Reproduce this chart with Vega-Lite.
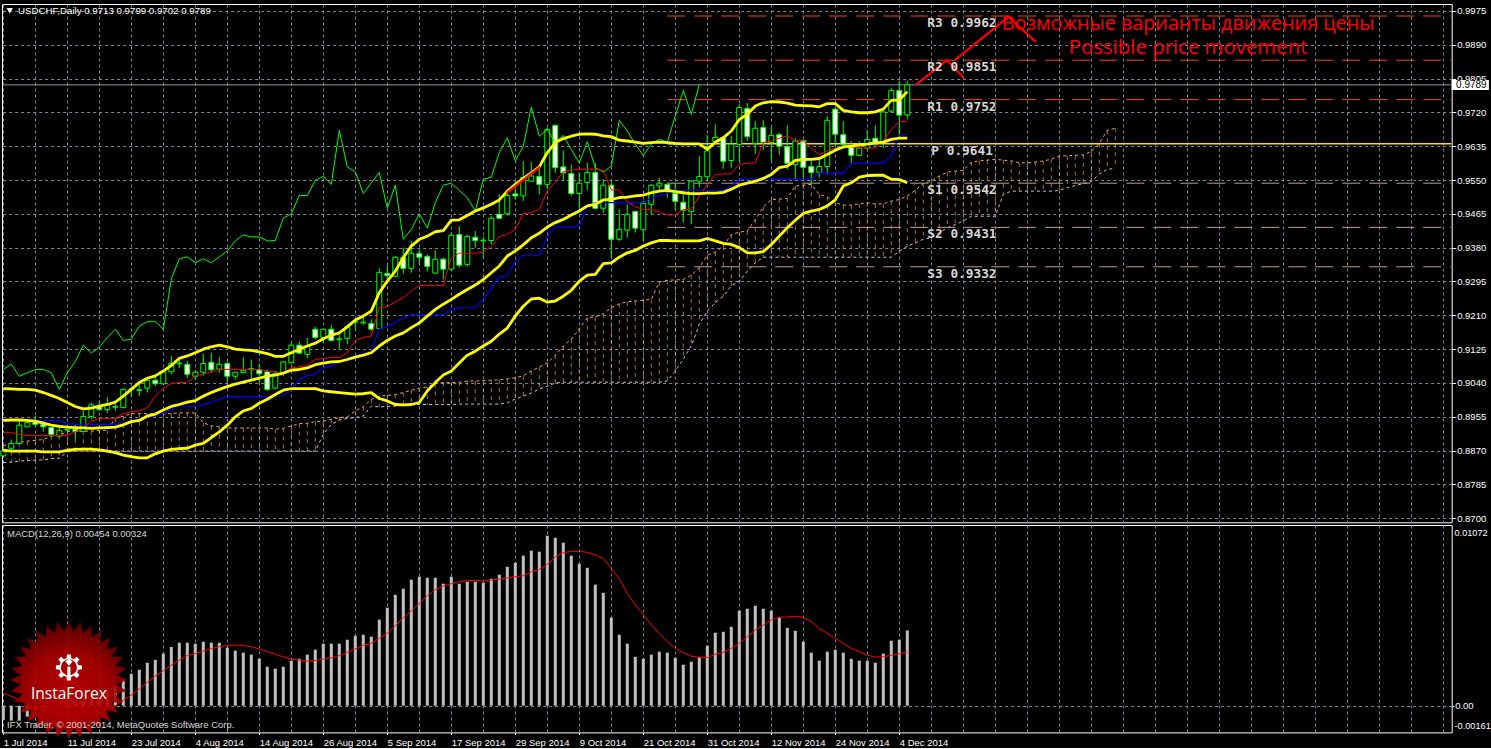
{"$schema":"https://vega.github.io/schema/vega-lite/v6.json","background":"#000000","padding":{"left":-1,"top":3,"right":0,"bottom":0},"bounds":"flush","spacing":2,"config":{"view":{"stroke":"#ffffff","strokeWidth":1},"axis":{"title":null,"domain":false,"labelOverlap":false,"labelFlush":false,"labelBound":false},"line":{"strokeJoin":"round"}},
"datasets":{
"candles":[
{"bar":0,"open":0.8857,"high":0.8879,"low":0.8852,"close":0.8869},{"bar":1,"open":0.8876,"high":0.8898,"low":0.8869,"close":0.8888},{"bar":2,"open":0.8888,"high":0.8944,"low":0.8886,"close":0.8934},{"bar":3,"open":0.893,"high":0.8944,"low":0.8928,"close":0.8941},{"bar":4,"open":0.8944,"high":0.8957,"low":0.8932,"close":0.8936},{"bar":5,"open":0.8936,"high":0.8944,"low":0.8918,"close":0.893},{"bar":6,"open":0.8928,"high":0.8929,"low":0.8908,"close":0.8911},{"bar":7,"open":0.8907,"high":0.8929,"low":0.8903,"close":0.8921},{"bar":8,"open":0.8922,"high":0.8926,"low":0.8918,"close":0.8923},{"bar":9,"open":0.8924,"high":0.8936,"low":0.8898,"close":0.8918},
{"bar":10,"open":0.8918,"high":0.897,"low":0.8917,"close":0.8956},{"bar":11,"open":0.8956,"high":0.8991,"low":0.8949,"close":0.8985},{"bar":12,"open":0.8981,"high":0.8995,"low":0.897,"close":0.8973},{"bar":13,"open":0.8973,"high":0.9005,"low":0.8965,"close":0.8985},{"bar":14,"open":0.8979,"high":0.8991,"low":0.897,"close":0.8981},{"bar":15,"open":0.8978,"high":0.9026,"low":0.8977,"close":0.9024},{"bar":16,"open":0.9024,"high":0.9031,"low":0.9007,"close":0.9025},{"bar":17,"open":0.9021,"high":0.9037,"low":0.9007,"close":0.9023},{"bar":18,"open":0.9027,"high":0.9052,"low":0.9016,"close":0.9047},{"bar":19,"open":0.9047,"high":0.9055,"low":0.9032,"close":0.9038},
{"bar":20,"open":0.9038,"high":0.9072,"low":0.9037,"close":0.9068},{"bar":21,"open":0.9068,"high":0.9108,"low":0.9062,"close":0.9089},{"bar":22,"open":0.9088,"high":0.9099,"low":0.9077,"close":0.909},{"bar":23,"open":0.9087,"high":0.9095,"low":0.9053,"close":0.9062},{"bar":24,"open":0.9057,"high":0.9072,"low":0.9047,"close":0.9067},{"bar":25,"open":0.9067,"high":0.9114,"low":0.9058,"close":0.9089},{"bar":26,"open":0.9092,"high":0.9116,"low":0.9066,"close":0.9073},{"bar":27,"open":0.9075,"high":0.9105,"low":0.9066,"close":0.9087},{"bar":28,"open":0.9089,"high":0.9094,"low":0.9041,"close":0.9057},{"bar":29,"open":0.9057,"high":0.9068,"low":0.9049,"close":0.9067},
{"bar":30,"open":0.9066,"high":0.9105,"low":0.9066,"close":0.9072},{"bar":31,"open":0.9073,"high":0.9099,"low":0.9045,"close":0.9076},{"bar":32,"open":0.9074,"high":0.9089,"low":0.9041,"close":0.9063},{"bar":33,"open":0.9068,"high":0.9074,"low":0.902,"close":0.9024},{"bar":34,"open":0.9027,"high":0.907,"low":0.9024,"close":0.9064},{"bar":35,"open":0.9064,"high":0.9095,"low":0.9058,"close":0.9093},{"bar":36,"open":0.9091,"high":0.9141,"low":0.9089,"close":0.9135},{"bar":37,"open":0.9135,"high":0.9144,"low":0.9112,"close":0.9115},{"bar":38,"open":0.9112,"high":0.9154,"low":0.9102,"close":0.9133},{"bar":39,"open":0.9175,"high":0.9181,"low":0.915,"close":0.9154},
{"bar":40,"open":0.9154,"high":0.9177,"low":0.9141,"close":0.9175},{"bar":41,"open":0.9175,"high":0.9186,"low":0.9144,"close":0.9147},{"bar":42,"open":0.9149,"high":0.9162,"low":0.9122,"close":0.9151},{"bar":43,"open":0.9152,"high":0.9187,"low":0.9137,"close":0.9182},{"bar":44,"open":0.9193,"high":0.92,"low":0.9175,"close":0.9195},{"bar":45,"open":0.9191,"high":0.9211,"low":0.9186,"close":0.9193},{"bar":46,"open":0.9189,"high":0.92,"low":0.9171,"close":0.9175},{"bar":47,"open":0.9177,"high":0.9328,"low":0.9175,"close":0.9318},{"bar":48,"open":0.9315,"high":0.9336,"low":0.93,"close":0.931},{"bar":49,"open":0.9308,"high":0.9359,"low":0.9305,"close":0.9356},
{"bar":50,"open":0.9355,"high":0.938,"low":0.9315,"close":0.9328},{"bar":51,"open":0.9328,"high":0.9397,"low":0.9317,"close":0.9366},{"bar":52,"open":0.9365,"high":0.9376,"low":0.9338,"close":0.9356},{"bar":53,"open":0.9358,"high":0.9363,"low":0.932,"close":0.9333},{"bar":54,"open":0.9316,"high":0.9373,"low":0.9315,"close":0.9351},{"bar":55,"open":0.9351,"high":0.9355,"low":0.93,"close":0.9326},{"bar":56,"open":0.9326,"high":0.9418,"low":0.9323,"close":0.9411},{"bar":57,"open":0.9413,"high":0.9434,"low":0.933,"close":0.9336},{"bar":58,"open":0.9338,"high":0.9413,"low":0.9332,"close":0.9408},{"bar":59,"open":0.9406,"high":0.9422,"low":0.938,"close":0.9398},
{"bar":60,"open":0.9397,"high":0.9407,"low":0.9353,"close":0.9399},{"bar":61,"open":0.9398,"high":0.946,"low":0.9388,"close":0.9454},{"bar":62,"open":0.9464,"high":0.9514,"low":0.9451,"close":0.9454},{"bar":63,"open":0.9465,"high":0.9522,"low":0.946,"close":0.9511},{"bar":64,"open":0.9515,"high":0.9547,"low":0.9501,"close":0.951},{"bar":65,"open":0.951,"high":0.9598,"low":0.9497,"close":0.9556},{"bar":66,"open":0.9547,"high":0.9596,"low":0.9547,"close":0.956},{"bar":67,"open":0.9559,"high":0.9581,"low":0.9514,"close":0.9539},{"bar":68,"open":0.9539,"high":0.9681,"low":0.9527,"close":0.9677},{"bar":69,"open":0.9687,"high":0.969,"low":0.9568,"close":0.9581},
{"bar":70,"open":0.9583,"high":0.9624,"low":0.9547,"close":0.9568},{"bar":71,"open":0.9566,"high":0.9589,"low":0.951,"close":0.9516},{"bar":72,"open":0.9516,"high":0.9568,"low":0.9476,"close":0.9542},{"bar":73,"open":0.9544,"high":0.9593,"low":0.9524,"close":0.9569},{"bar":74,"open":0.9569,"high":0.9593,"low":0.9476,"close":0.9479},{"bar":75,"open":0.9479,"high":0.9552,"low":0.9468,"close":0.9537},{"bar":76,"open":0.9537,"high":0.9547,"low":0.9355,"close":0.9401},{"bar":77,"open":0.9401,"high":0.9476,"low":0.9397,"close":0.9426},{"bar":78,"open":0.9424,"high":0.9489,"low":0.9405,"close":0.9464},{"bar":79,"open":0.9471,"high":0.9472,"low":0.9418,"close":0.9429},
{"bar":80,"open":0.9425,"high":0.9497,"low":0.9397,"close":0.9491},{"bar":81,"open":0.9489,"high":0.9539,"low":0.9464,"close":0.9537},{"bar":82,"open":0.9535,"high":0.9556,"low":0.9522,"close":0.9542},{"bar":83,"open":0.9539,"high":0.9543,"low":0.9506,"close":0.9521},{"bar":84,"open":0.9516,"high":0.9543,"low":0.9476,"close":0.9496},{"bar":85,"open":0.9494,"high":0.9514,"low":0.9443,"close":0.9474},{"bar":86,"open":0.9471,"high":0.9549,"low":0.9439,"close":0.9547},{"bar":87,"open":0.9547,"high":0.961,"low":0.9531,"close":0.9559},{"bar":88,"open":0.9558,"high":0.9663,"low":0.9547,"close":0.9623},{"bar":89,"open":0.9647,"high":0.969,"low":0.964,"close":0.9657},
{"bar":90,"open":0.9656,"high":0.9661,"low":0.9578,"close":0.9597},{"bar":91,"open":0.9599,"high":0.9661,"low":0.9581,"close":0.964},{"bar":92,"open":0.964,"high":0.974,"low":0.9596,"close":0.9732},{"bar":93,"open":0.973,"high":0.9744,"low":0.9648,"close":0.9659},{"bar":94,"open":0.9642,"high":0.9698,"low":0.9616,"close":0.968},{"bar":95,"open":0.9682,"high":0.97,"low":0.9625,"close":0.9645},{"bar":96,"open":0.9644,"high":0.9683,"low":0.9598,"close":0.9662},{"bar":97,"open":0.9664,"high":0.9669,"low":0.9614,"close":0.9635},{"bar":98,"open":0.9634,"high":0.9688,"low":0.9577,"close":0.9592},{"bar":99,"open":0.9589,"high":0.9655,"low":0.9552,"close":0.9648},
{"bar":100,"open":0.9649,"high":0.9652,"low":0.9552,"close":0.9582},{"bar":101,"open":0.9584,"high":0.9598,"low":0.9539,"close":0.9569},{"bar":102,"open":0.9569,"high":0.9606,"low":0.9556,"close":0.9584},{"bar":103,"open":0.9584,"high":0.9711,"low":0.9564,"close":0.97},{"bar":104,"open":0.9728,"high":0.9732,"low":0.9631,"close":0.9665},{"bar":105,"open":0.9664,"high":0.9698,"low":0.9631,"close":0.964},{"bar":106,"open":0.9637,"high":0.9648,"low":0.9589,"close":0.9612},{"bar":107,"open":0.9612,"high":0.9648,"low":0.961,"close":0.963},{"bar":108,"open":0.963,"high":0.9676,"low":0.9623,"close":0.9652},{"bar":109,"open":0.9655,"high":0.9687,"low":0.9635,"close":0.9645},
{"bar":110,"open":0.9645,"high":0.9723,"low":0.963,"close":0.9721},{"bar":111,"open":0.9723,"high":0.9782,"low":0.9719,"close":0.9775},{"bar":112,"open":0.9775,"high":0.9799,"low":0.9656,"close":0.9713},{"bar":113,"open":0.9713,"high":0.9799,"low":0.9702,"close":0.9789}],
"lines":[
{"bar":0,"upper":0.9026,"middle":0.8946,"lower":0.8871,"tenkan":0.8916,"kijun":0.8947,"chikou":0.9074},{"bar":1,"upper":0.9025,"middle":0.8947,"lower":0.8869,"tenkan":0.8916,"kijun":0.8947,"chikou":0.9087},{"bar":2,"upper":0.9024,"middle":0.8947,"lower":0.8869,"tenkan":0.8911,"kijun":0.8947,"chikou":0.9057},{"bar":3,"upper":0.9024,"middle":0.8946,"lower":0.8869,"tenkan":0.8908,"kijun":0.8947,"chikou":0.9066},{"bar":4,"upper":0.9022,"middle":0.8944,"lower":0.8869,"tenkan":0.8908,"kijun":0.8946,"chikou":0.9074},{"bar":5,"upper":0.9016,"middle":0.8939,"lower":0.8867,"tenkan":0.8908,"kijun":0.8946,"chikou":0.9074},{"bar":6,"upper":0.9009,"middle":0.8934,"lower":0.8867,"tenkan":0.8908,"kijun":0.8946,"chikou":0.9066},{"bar":7,"upper":0.9001,"middle":0.8931,"lower":0.8867,"tenkan":0.8908,"kijun":0.8946,"chikou":0.9024},{"bar":8,"upper":0.8991,"middle":0.8929,"lower":0.8871,"tenkan":0.8908,"kijun":0.8938,"chikou":0.9066},{"bar":9,"upper":0.8981,"middle":0.8928,"lower":0.8873,"tenkan":0.8918,"kijun":0.8936,"chikou":0.9094},
{"bar":10,"upper":0.8975,"middle":0.8927,"lower":0.8874,"tenkan":0.8928,"kijun":0.8936,"chikou":0.9135},{"bar":11,"upper":0.8977,"middle":0.8926,"lower":0.8874,"tenkan":0.8944,"kijun":0.8936,"chikou":0.9115},{"bar":12,"upper":0.8982,"middle":0.8927,"lower":0.8872,"tenkan":0.8951,"kijun":0.8936,"chikou":0.913},{"bar":13,"upper":0.8986,"middle":0.8928,"lower":0.8869,"tenkan":0.8951,"kijun":0.8936,"chikou":0.9154},{"bar":14,"upper":0.8992,"middle":0.8929,"lower":0.8865,"tenkan":0.8951,"kijun":0.8936,"chikou":0.9175},{"bar":15,"upper":0.9007,"middle":0.8935,"lower":0.8859,"tenkan":0.8963,"kijun":0.894,"chikou":0.9147},{"bar":16,"upper":0.9024,"middle":0.8943,"lower":0.8855,"tenkan":0.8968,"kijun":0.8943,"chikou":0.915},{"bar":17,"upper":0.9041,"middle":0.8946,"lower":0.8852,"tenkan":0.897,"kijun":0.8949,"chikou":0.9183},{"bar":18,"upper":0.9052,"middle":0.8957,"lower":0.8852,"tenkan":0.8978,"kijun":0.8953,"chikou":0.9194},{"bar":19,"upper":0.9058,"middle":0.8962,"lower":0.8862,"tenkan":0.9007,"kijun":0.8957,"chikou":0.9194},
{"bar":20,"upper":0.907,"middle":0.8972,"lower":0.8869,"tenkan":0.9027,"kijun":0.8963,"chikou":0.9175},{"bar":21,"upper":0.9084,"middle":0.8981,"lower":0.8873,"tenkan":0.9039,"kijun":0.8974,"chikou":0.9301},{"bar":22,"upper":0.9102,"middle":0.8986,"lower":0.8875,"tenkan":0.9041,"kijun":0.8981,"chikou":0.9352},{"bar":23,"upper":0.9108,"middle":0.8992,"lower":0.8876,"tenkan":0.9042,"kijun":0.8981,"chikou":0.9357},{"bar":24,"upper":0.9116,"middle":0.8996,"lower":0.8884,"tenkan":0.9058,"kijun":0.8981,"chikou":0.9342},{"bar":25,"upper":0.9125,"middle":0.9007,"lower":0.8888,"tenkan":0.9062,"kijun":0.8985,"chikou":0.9352},{"bar":26,"upper":0.9131,"middle":0.9016,"lower":0.8903,"tenkan":0.9068,"kijun":0.8991,"chikou":0.9342},{"bar":27,"upper":0.9135,"middle":0.9024,"lower":0.8917,"tenkan":0.9074,"kijun":0.8999,"chikou":0.9357},{"bar":28,"upper":0.9131,"middle":0.9031,"lower":0.8934,"tenkan":0.9074,"kijun":0.9006,"chikou":0.9372},{"bar":29,"upper":0.9125,"middle":0.9037,"lower":0.8955,"tenkan":0.9074,"kijun":0.9006,"chikou":0.9397},
{"bar":30,"upper":0.9123,"middle":0.9042,"lower":0.897,"tenkan":0.9074,"kijun":0.9006,"chikou":0.9412},{"bar":31,"upper":0.9122,"middle":0.9047,"lower":0.8976,"tenkan":0.9074,"kijun":0.9006,"chikou":0.9407},{"bar":32,"upper":0.9118,"middle":0.9052,"lower":0.8989,"tenkan":0.9073,"kijun":0.9006,"chikou":0.9407},{"bar":33,"upper":0.9114,"middle":0.9058,"lower":0.8999,"tenkan":0.907,"kijun":0.9006,"chikou":0.9397},{"bar":34,"upper":0.9107,"middle":0.906,"lower":0.9011,"tenkan":0.9068,"kijun":0.9006,"chikou":0.9398},{"bar":35,"upper":0.9107,"middle":0.9065,"lower":0.9022,"tenkan":0.9066,"kijun":0.9011,"chikou":0.9454},{"bar":36,"upper":0.9116,"middle":0.9072,"lower":0.9026,"tenkan":0.9078,"kijun":0.902,"chikou":0.9465},{"bar":37,"upper":0.9125,"middle":0.9074,"lower":0.9026,"tenkan":0.9081,"kijun":0.9049,"chikou":0.9511},{"bar":38,"upper":0.9133,"middle":0.9078,"lower":0.9026,"tenkan":0.9084,"kijun":0.9058,"chikou":0.9511},{"bar":39,"upper":0.914,"middle":0.9086,"lower":0.9026,"tenkan":0.9099,"kijun":0.9063,"chikou":0.9549},
{"bar":40,"upper":0.9151,"middle":0.909,"lower":0.902,"tenkan":0.9102,"kijun":0.9078,"chikou":0.9559},{"bar":41,"upper":0.916,"middle":0.9093,"lower":0.9018,"tenkan":0.9104,"kijun":0.9083,"chikou":0.9539},{"bar":42,"upper":0.9166,"middle":0.9094,"lower":0.9016,"tenkan":0.9104,"kijun":0.9095,"chikou":0.9675},{"bar":43,"upper":0.9181,"middle":0.9099,"lower":0.9014,"tenkan":0.9116,"kijun":0.9102,"chikou":0.9583},{"bar":44,"upper":0.9198,"middle":0.9105,"lower":0.9012,"tenkan":0.9147,"kijun":0.9109,"chikou":0.9571},{"bar":45,"upper":0.9208,"middle":0.911,"lower":0.9013,"tenkan":0.9154,"kijun":0.9114,"chikou":0.9516},{"bar":46,"upper":0.9221,"middle":0.9116,"lower":0.9016,"tenkan":0.9158,"kijun":0.912,"chikou":0.9543},{"bar":47,"upper":0.9267,"middle":0.9133,"lower":0.9001,"tenkan":0.9229,"kijun":0.9177,"chikou":0.9569},{"bar":48,"upper":0.9296,"middle":0.9147,"lower":0.8995,"tenkan":0.9232,"kijun":0.9181,"chikou":0.9479},{"bar":49,"upper":0.9321,"middle":0.9158,"lower":0.8986,"tenkan":0.9244,"kijun":0.9192,"chikou":0.9537},
{"bar":50,"upper":0.9355,"middle":0.9166,"lower":0.8985,"tenkan":0.9254,"kijun":0.9204,"chikou":0.9401},{"bar":51,"upper":0.9384,"middle":0.9179,"lower":0.8986,"tenkan":0.9271,"kijun":0.9211,"chikou":0.9426},{"bar":52,"upper":0.9401,"middle":0.9191,"lower":0.8991,"tenkan":0.9285,"kijun":0.9211,"chikou":0.9465},{"bar":53,"upper":0.9409,"middle":0.9208,"lower":0.902,"tenkan":0.9285,"kijun":0.9211,"chikou":0.9429},{"bar":54,"upper":0.942,"middle":0.9225,"lower":0.9041,"tenkan":0.9285,"kijun":0.9211,"chikou":0.9493},{"bar":55,"upper":0.9423,"middle":0.9238,"lower":0.906,"tenkan":0.9285,"kijun":0.9211,"chikou":0.9537},{"bar":56,"upper":0.9449,"middle":0.925,"lower":0.907,"tenkan":0.9355,"kijun":0.9225,"chikou":0.9542},{"bar":57,"upper":0.945,"middle":0.9263,"lower":0.909,"tenkan":0.9366,"kijun":0.9228,"chikou":0.9524},{"bar":58,"upper":0.9461,"middle":0.9275,"lower":0.911,"tenkan":0.9366,"kijun":0.9229,"chikou":0.9506},{"bar":59,"upper":0.9472,"middle":0.9286,"lower":0.912,"tenkan":0.9366,"kijun":0.9229,"chikou":0.9472},
{"bar":60,"upper":0.948,"middle":0.93,"lower":0.9133,"tenkan":0.9369,"kijun":0.925,"chikou":0.9552},{"bar":61,"upper":0.9489,"middle":0.9317,"lower":0.9145,"tenkan":0.9383,"kijun":0.9279,"chikou":0.9557},{"bar":62,"upper":0.95,"middle":0.9334,"lower":0.9163,"tenkan":0.9408,"kijun":0.9306,"chikou":0.9619},{"bar":63,"upper":0.9522,"middle":0.9359,"lower":0.9178,"tenkan":0.9413,"kijun":0.931,"chikou":0.9656},{"bar":64,"upper":0.9539,"middle":0.9372,"lower":0.9208,"tenkan":0.9426,"kijun":0.9346,"chikou":0.9598},{"bar":65,"upper":0.9554,"middle":0.9387,"lower":0.9233,"tenkan":0.9465,"kijun":0.9361,"chikou":0.9635},{"bar":66,"upper":0.9568,"middle":0.9405,"lower":0.9251,"tenkan":0.9468,"kijun":0.9361,"chikou":0.9733},{"bar":67,"upper":0.9583,"middle":0.9416,"lower":0.9253,"tenkan":0.9476,"kijun":0.9361,"chikou":0.966},{"bar":68,"upper":0.9619,"middle":0.9432,"lower":0.9243,"tenkan":0.9522,"kijun":0.9409,"chikou":0.9677},{"bar":69,"upper":0.9644,"middle":0.9443,"lower":0.9246,"tenkan":0.9545,"kijun":0.9432,"chikou":0.9644},
{"bar":70,"upper":0.9654,"middle":0.9451,"lower":0.9258,"tenkan":0.9571,"kijun":0.9432,"chikou":0.9662},{"bar":71,"upper":0.966,"middle":0.9462,"lower":0.9273,"tenkan":0.9575,"kijun":0.9432,"chikou":0.9627},{"bar":72,"upper":0.9665,"middle":0.9472,"lower":0.9296,"tenkan":0.9577,"kijun":0.9434,"chikou":0.9593},{"bar":73,"upper":0.9666,"middle":0.9485,"lower":0.9311,"tenkan":0.9577,"kijun":0.9482,"chikou":0.9646},{"bar":74,"upper":0.9665,"middle":0.9489,"lower":0.9313,"tenkan":0.9577,"kijun":0.9493,"chikou":0.9581},{"bar":75,"upper":0.9661,"middle":0.95,"lower":0.934,"tenkan":0.9574,"kijun":0.9493,"chikou":0.957},{"bar":76,"upper":0.9659,"middle":0.9501,"lower":0.9342,"tenkan":0.9525,"kijun":0.9493,"chikou":0.9585},{"bar":77,"upper":0.965,"middle":0.9506,"lower":0.9356,"tenkan":0.9525,"kijun":0.9493,"chikou":0.97},{"bar":78,"upper":0.9648,"middle":0.9507,"lower":0.9367,"tenkan":0.9495,"kijun":0.9493,"chikou":0.9673},{"bar":79,"upper":0.9645,"middle":0.951,"lower":0.9373,"tenkan":0.9483,"kijun":0.9493,"chikou":0.964},
{"bar":80,"upper":0.9642,"middle":0.9512,"lower":0.9384,"tenkan":0.9476,"kijun":0.9493,"chikou":0.9612},{"bar":81,"upper":0.9644,"middle":0.9518,"lower":0.9392,"tenkan":0.9476,"kijun":0.9506,"chikou":0.964},{"bar":82,"upper":0.9645,"middle":0.9522,"lower":0.9398,"tenkan":0.947,"kijun":0.951,"chikou":0.9652},{"bar":83,"upper":0.9644,"middle":0.9524,"lower":0.9398,"tenkan":0.9462,"kijun":0.9516,"chikou":0.9645},{"bar":84,"upper":0.9642,"middle":0.9521,"lower":0.9397,"tenkan":0.9462,"kijun":0.9522,"chikou":0.9711},{"bar":85,"upper":0.9641,"middle":0.9518,"lower":0.9397,"tenkan":0.9476,"kijun":0.9524,"chikou":0.9775},{"bar":86,"upper":0.9641,"middle":0.9516,"lower":0.9397,"tenkan":0.9476,"kijun":0.9524,"chikou":0.9715},{"bar":87,"upper":0.9641,"middle":0.9516,"lower":0.9397,"tenkan":0.951,"kijun":0.9524,"chikou":0.979},{"bar":88,"upper":0.9627,"middle":0.9517,"lower":0.9403,"tenkan":0.9539,"kijun":0.9524},{"bar":89,"upper":0.9645,"middle":0.9517,"lower":0.9397,"tenkan":0.9564,"kijun":0.9524},
{"bar":90,"upper":0.9656,"middle":0.9519,"lower":0.9391,"tenkan":0.9565,"kijun":0.9524},{"bar":91,"upper":0.9673,"middle":0.9527,"lower":0.9388,"tenkan":0.9566,"kijun":0.9535},{"bar":92,"upper":0.9702,"middle":0.9537,"lower":0.938,"tenkan":0.9589,"kijun":0.9552},{"bar":93,"upper":0.9715,"middle":0.9542,"lower":0.9367,"tenkan":0.9592,"kijun":0.9552},{"bar":94,"upper":0.9736,"middle":0.9547,"lower":0.9367,"tenkan":0.9593,"kijun":0.9552},{"bar":95,"upper":0.9744,"middle":0.9554,"lower":0.937,"tenkan":0.9644,"kijun":0.9552},{"bar":96,"upper":0.9747,"middle":0.9564,"lower":0.9388,"tenkan":0.9648,"kijun":0.9552},{"bar":97,"upper":0.9746,"middle":0.9581,"lower":0.9409,"tenkan":0.9655,"kijun":0.9552},{"bar":98,"upper":0.9743,"middle":0.9585,"lower":0.943,"tenkan":0.9661,"kijun":0.9552},{"bar":99,"upper":0.9738,"middle":0.9599,"lower":0.9449,"tenkan":0.9648,"kijun":0.9552},
{"bar":100,"upper":0.9737,"middle":0.9602,"lower":0.9466,"tenkan":0.9648,"kijun":0.9552},{"bar":101,"upper":0.9736,"middle":0.9602,"lower":0.9472,"tenkan":0.963,"kijun":0.9552},{"bar":102,"upper":0.9734,"middle":0.9604,"lower":0.9476,"tenkan":0.9614,"kijun":0.9568},{"bar":103,"upper":0.9742,"middle":0.9614,"lower":0.9485,"tenkan":0.9623,"kijun":0.9568},{"bar":104,"upper":0.9742,"middle":0.9625,"lower":0.95,"tenkan":0.963,"kijun":0.9568},{"bar":105,"upper":0.9725,"middle":0.9633,"lower":0.9535,"tenkan":0.9633,"kijun":0.9568},{"bar":106,"upper":0.9721,"middle":0.9635,"lower":0.9543,"tenkan":0.9633,"kijun":0.9592},{"bar":107,"upper":0.9719,"middle":0.9638,"lower":0.9557,"tenkan":0.9631,"kijun":0.9592},{"bar":108,"upper":0.9719,"middle":0.964,"lower":0.9561,"tenkan":0.963,"kijun":0.9592},{"bar":109,"upper":0.9721,"middle":0.9643,"lower":0.9562,"tenkan":0.963,"kijun":0.9592},
{"bar":110,"upper":0.9728,"middle":0.9645,"lower":0.9562,"tenkan":0.9648,"kijun":0.9592},{"bar":111,"upper":0.975,"middle":0.9652,"lower":0.9552,"tenkan":0.9677,"kijun":0.961},{"bar":112,"upper":0.9751,"middle":0.9655,"lower":0.9551,"tenkan":0.9696,"kijun":0.9663},{"bar":113,"upper":0.9772,"middle":0.9655,"lower":0.9543,"tenkan":0.9698,"kijun":0.9665}],
"cloud":[
{"bar":0,"spanA":0.8882,"spanB":0.884},{"bar":1,"spanA":0.8888,"spanB":0.8841},{"bar":2,"spanA":0.889,"spanB":0.8844},{"bar":3,"spanA":0.8894,"spanB":0.8845},{"bar":4,"spanA":0.8896,"spanB":0.8846},{"bar":5,"spanA":0.8898,"spanB":0.8847},{"bar":6,"spanA":0.8907,"spanB":0.885},{"bar":7,"spanA":0.8908,"spanB":0.8851},{"bar":8,"spanA":0.8918,"spanB":0.8867},{"bar":9,"spanA":0.8919,"spanB":0.8869},{"bar":10,"spanA":0.8919,"spanB":0.8869},{"bar":11,"spanA":0.8919,"spanB":0.8869},{"bar":12,"spanA":0.8921,"spanB":0.8869},{"bar":13,"spanA":0.8921,"spanB":0.8869},{"bar":14,"spanA":0.8951,"spanB":0.8869},{"bar":15,"spanA":0.8957,"spanB":0.8869},{"bar":16,"spanA":0.8963,"spanB":0.8869},{"bar":17,"spanA":0.8963,"spanB":0.8869},{"bar":18,"spanA":0.8963,"spanB":0.8869},{"bar":19,"spanA":0.8963,"spanB":0.8869},{"bar":20,"spanA":0.8963,"spanB":0.8869},{"bar":21,"spanA":0.8963,"spanB":0.8869},{"bar":22,"spanA":0.8965,"spanB":0.8869},{"bar":23,"spanA":0.8965,"spanB":0.8869},{"bar":24,"spanA":0.8965,"spanB":0.8869},{"bar":25,"spanA":0.894,"spanB":0.8869},{"bar":26,"spanA":0.8932,"spanB":0.8869},{"bar":27,"spanA":0.893,"spanB":0.8869},{"bar":28,"spanA":0.8927,"spanB":0.8869},{"bar":29,"spanA":0.8927,"spanB":0.8869},{"bar":30,"spanA":0.8927,"spanB":0.8869},{"bar":31,"spanA":0.8927,"spanB":0.8869},{"bar":32,"spanA":0.8927,"spanB":0.8869},{"bar":33,"spanA":0.8927,"spanB":0.8869},{"bar":34,"spanA":0.8924,"spanB":0.8869},{"bar":35,"spanA":0.8926,"spanB":0.8869},{"bar":36,"spanA":0.8932,"spanB":0.8869},{"bar":37,"spanA":0.8938,"spanB":0.8869},{"bar":38,"spanA":0.8939,"spanB":0.8869},{"bar":39,"spanA":0.8943,"spanB":0.8869},
{"bar":40,"spanA":0.8944,"spanB":0.8911},{"bar":41,"spanA":0.8949,"spanB":0.8936},{"bar":42,"spanA":0.8953,"spanB":0.8947},{"bar":43,"spanA":0.8955,"spanB":0.8951},{"bar":44,"spanA":0.897,"spanB":0.8953},{"bar":45,"spanA":0.898,"spanB":0.8957},{"bar":46,"spanA":0.8999,"spanB":0.8982},{"bar":47,"spanA":0.9007,"spanB":0.898},{"bar":48,"spanA":0.9009,"spanB":0.8981},{"bar":49,"spanA":0.9011,"spanB":0.8982},{"bar":50,"spanA":0.9016,"spanB":0.8985},{"bar":51,"spanA":0.9022,"spanB":0.8986},{"bar":52,"spanA":0.9027,"spanB":0.8986},{"bar":53,"spanA":0.903,"spanB":0.8986},{"bar":54,"spanA":0.9039,"spanB":0.8986},{"bar":55,"spanA":0.9041,"spanB":0.8986},{"bar":56,"spanA":0.9041,"spanB":0.8986},{"bar":57,"spanA":0.9042,"spanB":0.8987},{"bar":58,"spanA":0.9045,"spanB":0.8987},{"bar":59,"spanA":0.9045,"spanB":0.8987},{"bar":60,"spanA":0.9046,"spanB":0.8987},{"bar":61,"spanA":0.9047,"spanB":0.8987},{"bar":62,"spanA":0.9048,"spanB":0.8987},{"bar":63,"spanA":0.905,"spanB":0.899},{"bar":64,"spanA":0.9053,"spanB":0.9},{"bar":65,"spanA":0.9058,"spanB":0.9007},{"bar":66,"spanA":0.907,"spanB":0.9015},{"bar":67,"spanA":0.908,"spanB":0.9025},{"bar":68,"spanA":0.909,"spanB":0.9032},{"bar":69,"spanA":0.911,"spanB":0.904},{"bar":70,"spanA":0.9133,"spanB":0.9042},{"bar":71,"spanA":0.915,"spanB":0.9042},{"bar":72,"spanA":0.9176,"spanB":0.9042},{"bar":73,"spanA":0.9204,"spanB":0.9042},{"bar":74,"spanA":0.9206,"spanB":0.9042},{"bar":75,"spanA":0.9214,"spanB":0.9042},{"bar":76,"spanA":0.9229,"spanB":0.9042},{"bar":77,"spanA":0.9239,"spanB":0.9042},{"bar":78,"spanA":0.9244,"spanB":0.9042},{"bar":79,"spanA":0.9246,"spanB":0.9042},
{"bar":80,"spanA":0.9248,"spanB":0.9042},{"bar":81,"spanA":0.925,"spanB":0.9042},{"bar":82,"spanA":0.9294,"spanB":0.9042},{"bar":83,"spanA":0.9298,"spanB":0.9045},{"bar":84,"spanA":0.9299,"spanB":0.907},{"bar":85,"spanA":0.93,"spanB":0.91},{"bar":86,"spanA":0.9311,"spanB":0.9133},{"bar":87,"spanA":0.933,"spanB":0.9187},{"bar":88,"spanA":0.9361,"spanB":0.9221},{"bar":89,"spanA":0.9369,"spanB":0.9242},{"bar":90,"spanA":0.9384,"spanB":0.9258},{"bar":91,"spanA":0.9413,"spanB":0.9284},{"bar":92,"spanA":0.9419,"spanB":0.9296},{"bar":93,"spanA":0.9422,"spanB":0.9321},{"bar":94,"spanA":0.9451,"spanB":0.9342},{"bar":95,"spanA":0.9482,"spanB":0.9356},{"bar":96,"spanA":0.9501,"spanB":0.9356},{"bar":97,"spanA":0.9502,"spanB":0.9356},{"bar":98,"spanA":0.9504,"spanB":0.9356},{"bar":99,"spanA":0.9535,"spanB":0.9356},{"bar":100,"spanA":0.9537,"spanB":0.9356},{"bar":101,"spanA":0.9539,"spanB":0.9356},{"bar":102,"spanA":0.9514,"spanB":0.9356},{"bar":103,"spanA":0.9507,"spanB":0.9356},{"bar":104,"spanA":0.9493,"spanB":0.9356},{"bar":105,"spanA":0.9487,"spanB":0.9356},{"bar":106,"spanA":0.9487,"spanB":0.9356},{"bar":107,"spanA":0.949,"spanB":0.9356},{"bar":108,"spanA":0.9493,"spanB":0.9356},{"bar":109,"spanA":0.949,"spanB":0.9356},{"bar":110,"spanA":0.949,"spanB":0.9356},{"bar":111,"spanA":0.9497,"spanB":0.9356},{"bar":112,"spanA":0.9501,"spanB":0.9371},{"bar":113,"spanA":0.951,"spanB":0.9384},{"bar":114,"spanA":0.9524,"spanB":0.9392},{"bar":115,"spanA":0.9541,"spanB":0.9401},{"bar":116,"spanA":0.9547,"spanB":0.9405},{"bar":117,"spanA":0.956,"spanB":0.9418},{"bar":118,"spanA":0.957,"spanB":0.943},{"bar":119,"spanA":0.9572,"spanB":0.9438},
{"bar":120,"spanA":0.9574,"spanB":0.9447},{"bar":121,"spanA":0.9595,"spanB":0.9459},{"bar":122,"spanA":0.9598,"spanB":0.9459},{"bar":123,"spanA":0.96,"spanB":0.9459},{"bar":124,"spanA":0.9602,"spanB":0.9459},{"bar":125,"spanA":0.96,"spanB":0.9514},{"bar":126,"spanA":0.9598,"spanB":0.9522},{"bar":127,"spanA":0.9593,"spanB":0.9522},{"bar":128,"spanA":0.9593,"spanB":0.9522},{"bar":129,"spanA":0.9595,"spanB":0.9522},{"bar":130,"spanA":0.9598,"spanB":0.9522},{"bar":131,"spanA":0.9602,"spanB":0.9522},{"bar":132,"spanA":0.961,"spanB":0.9524},{"bar":133,"spanA":0.9611,"spanB":0.9531},{"bar":134,"spanA":0.9612,"spanB":0.9536},{"bar":135,"spanA":0.9613,"spanB":0.9541},{"bar":136,"spanA":0.9622,"spanB":0.9546},{"bar":137,"spanA":0.9642,"spanB":0.9565},{"bar":138,"spanA":0.9675,"spanB":0.9577},{"bar":139,"spanA":0.968,"spanB":0.9579}],
"macd":[
{"bar":0,"macd":-0.00086,"signal":0.00076},{"bar":1,"macd":-0.0009,"signal":0.00056},{"bar":2,"macd":-0.0009,"signal":0.00036},{"bar":3,"macd":-0.00066,"signal":0.00014},{"bar":4,"macd":-0.00026,"signal":-0.00012},{"bar":5,"macd":-0.00012,"signal":-0.00028},{"bar":6,"macd":0.00001,"signal":-0.0004},{"bar":7,"macd":0.00004,"signal":-0.00052},{"bar":8,"macd":0.00008,"signal":-0.0006},{"bar":9,"macd":0.00014,"signal":-0.00058},{"bar":10,"macd":0.00024,"signal":-0.00052},{"bar":11,"macd":0.00044,"signal":-0.0004},{"bar":12,"macd":0.00064,"signal":-0.00032},{"bar":13,"macd":0.00094,"signal":-0.0002},{"bar":14,"macd":0.00115,"signal":0},{"bar":15,"macd":0.00155,"signal":0.00034},{"bar":16,"macd":0.00193,"signal":0.00064},{"bar":17,"macd":0.00217,"signal":0.00101},{"bar":18,"macd":0.00259,"signal":0.00141},{"bar":19,"macd":0.00277,"signal":0.00179},{"bar":20,"macd":0.00314,"signal":0.00211},{"bar":21,"macd":0.00354,"signal":0.00245},{"bar":22,"macd":0.0038,"signal":0.00275},{"bar":23,"macd":0.0038,"signal":0.00302},{"bar":24,"macd":0.00374,"signal":0.00314},{"bar":25,"macd":0.00386,"signal":0.0033},{"bar":26,"macd":0.0038,"signal":0.00344},{"bar":27,"macd":0.0038,"signal":0.00356},{"bar":28,"macd":0.0035,"signal":0.00362},{"bar":29,"macd":0.00332,"signal":0.00366},{"bar":30,"macd":0.0032,"signal":0.00362},{"bar":31,"macd":0.00308,"signal":0.00356},{"bar":32,"macd":0.00283,"signal":0.00342},{"bar":33,"macd":0.00235,"signal":0.00326},{"bar":34,"macd":0.00223,"signal":0.0031},{"bar":35,"macd":0.00235,"signal":0.00295},{"bar":36,"macd":0.00271,"signal":0.00281},{"bar":37,"macd":0.00283,"signal":0.00275},{"bar":38,"macd":0.00308,"signal":0.00269},{"bar":39,"macd":0.00338,"signal":0.00273},
{"bar":40,"macd":0.00374,"signal":0.00281},{"bar":41,"macd":0.00374,"signal":0.00289},{"bar":42,"macd":0.00374,"signal":0.00302},{"bar":43,"macd":0.00398,"signal":0.00322},{"bar":44,"macd":0.00422,"signal":0.00342},{"bar":45,"macd":0.00428,"signal":0.00364},{"bar":46,"macd":0.00416,"signal":0.00376},{"bar":47,"macd":0.00519,"signal":0.00406},{"bar":48,"macd":0.00591,"signal":0.00436},{"bar":49,"macd":0.00669,"signal":0.00482},{"bar":50,"macd":0.00706,"signal":0.00531},{"bar":51,"macd":0.0076,"signal":0.00571},{"bar":52,"macd":0.00778,"signal":0.00617},{"bar":53,"macd":0.00772,"signal":0.00663},{"bar":54,"macd":0.00772,"signal":0.00699},{"bar":55,"macd":0.00736,"signal":0.00722},{"bar":56,"macd":0.00778,"signal":0.00736},{"bar":57,"macd":0.00736,"signal":0.00748},{"bar":58,"macd":0.00748,"signal":0.00754},{"bar":59,"macd":0.00748,"signal":0.00756},{"bar":60,"macd":0.00742,"signal":0.00752},{"bar":61,"macd":0.00766,"signal":0.00758},{"bar":62,"macd":0.0079,"signal":0.00764},{"bar":63,"macd":0.00838,"signal":0.0077},{"bar":64,"macd":0.00862,"signal":0.00778},{"bar":65,"macd":0.00905,"signal":0.00784},{"bar":66,"macd":0.00935,"signal":0.00808},{"bar":67,"macd":0.00929,"signal":0.00822},{"bar":68,"macd":0.01025,"signal":0.00852},{"bar":69,"macd":0.01013,"signal":0.00898},{"bar":70,"macd":0.00983,"signal":0.00923},{"bar":71,"macd":0.00905,"signal":0.00931},{"bar":72,"macd":0.00856,"signal":0.00931},{"bar":73,"macd":0.00832,"signal":0.00925},{"bar":74,"macd":0.0073,"signal":0.00909},{"bar":75,"macd":0.00681,"signal":0.00888},{"bar":76,"macd":0.00531,"signal":0.00828},{"bar":77,"macd":0.00428,"signal":0.00764},{"bar":78,"macd":0.00374,"signal":0.00677},{"bar":79,"macd":0.00295,"signal":0.00607},
{"bar":80,"macd":0.00283,"signal":0.00551},{"bar":81,"macd":0.00308,"signal":0.00486},{"bar":82,"macd":0.00326,"signal":0.00436},{"bar":83,"macd":0.0032,"signal":0.00386},{"bar":84,"macd":0.00289,"signal":0.00346},{"bar":85,"macd":0.00247,"signal":0.0032},{"bar":86,"macd":0.00265,"signal":0.00299},{"bar":87,"macd":0.00295,"signal":0.00291},{"bar":88,"macd":0.00362,"signal":0.00291},{"bar":89,"macd":0.0044,"signal":0.0031},{"bar":90,"macd":0.00446,"signal":0.00322},{"bar":91,"macd":0.00476,"signal":0.00346},{"bar":92,"macd":0.00573,"signal":0.00376},{"bar":93,"macd":0.00585,"signal":0.00416},{"bar":94,"macd":0.00603,"signal":0.00456},{"bar":95,"macd":0.00585,"signal":0.00486},{"bar":96,"macd":0.00573,"signal":0.00517},{"bar":97,"macd":0.00531,"signal":0.00533},{"bar":98,"macd":0.0047,"signal":0.00535},{"bar":99,"macd":0.00452,"signal":0.00539},{"bar":100,"macd":0.00386,"signal":0.00533},{"bar":101,"macd":0.0032,"signal":0.00507},{"bar":102,"macd":0.00271,"signal":0.00466},{"bar":103,"macd":0.00326,"signal":0.00436},{"bar":104,"macd":0.00338,"signal":0.00406},{"bar":105,"macd":0.0032,"signal":0.00376},{"bar":106,"macd":0.00283,"signal":0.00346},{"bar":107,"macd":0.00271,"signal":0.00326},{"bar":108,"macd":0.00271,"signal":0.00306},{"bar":109,"macd":0.00259,"signal":0.00293},{"bar":110,"macd":0.00314,"signal":0.00295},{"bar":111,"macd":0.00392,"signal":0.00304},{"bar":112,"macd":0.00398,"signal":0.00312},{"bar":113,"macd":0.00454,"signal":0.00324}],
"pivots":[{"bar":83,"barEnd":181,"price":0.9962,"name":"R3"},{"bar":83,"barEnd":181,"price":0.9851,"name":"R2"},{"bar":83,"barEnd":181,"price":0.9752,"name":"R1"},{"bar":83,"barEnd":181,"price":0.9542,"name":"S1"},{"bar":83,"barEnd":181,"price":0.9431,"name":"S2"},{"bar":83,"barEnd":181,"price":0.9332,"name":"S3"}],
"arrows":[{"path":"a","step":1,"bar":114.08,"price":0.9789},{"path":"a","step":2,"bar":117.96,"price":0.9851},{"path":"a","step":3,"bar":120.06,"price":0.9807},{"path":"b","step":1,"bar":118.94,"price":0.9851},{"path":"b","step":2,"bar":125.66,"price":0.996},{"path":"b","step":3,"bar":129.07,"price":0.9897},{"path":"c","step":1,"bar":62.9,"price":0.9517},{"path":"c","step":2,"bar":67.1,"price":0.9583}]
},
"vconcat":[
{"width":1449.7,"height":518.3,
"encoding":{"x":{"field":"bar","type":"quantitative","scale":{"domain":[-0.1625,181.05],"nice":false,"zero":false,"padding":0},"axis":{"values":[0,4,8,12,16,20,24,28,32,36,40,44,48,52,56,60,64,68,72,76,80,84,88,92,96,100,104,108,112,116,120,124,128,132,136,140,144,148,152,156,160,164,168,172,176,180],"tickCount":60,"labels":false,"ticks":false,"grid":true,"gridColor":"#7d8a98","gridDash":[3,3],"gridWidth":1}}},
"layer":[
{"data":{"name":"cloud"},"mark":{"type":"rule","color":"#f4a460","strokeWidth":0.9,"strokeDash":[4,4],"opacity":0.75},"encoding":{"y":{"field":"spanA","type":"quantitative","title":null,"scale":{"domain":[0.869,0.99922],"nice":false,"zero":false},"axis":{"orient":"right","title":null,"values":[0.87,0.8785,0.887,0.8955,0.904,0.9125,0.921,0.9295,0.938,0.9465,0.955,0.9635,0.972,0.9805,0.989,0.9975],"tickCount":20,"format":".4f","grid":true,"gridColor":"#7d8a98","gridDash":[3,3],"gridWidth":1,"tickColor":"#ffffff","tickSize":4,"labelColor":"#ffffff","labelFont":"Liberation Sans","labelFontSize":9.5,"labelPadding":1,"labelBound":false,"labelFlush":false,"labelOverlap":false}},"y2":{"field":"spanB"}}},
{"data":{"name":"cloud"},"mark":{"type":"line","strokeJoin":"round","color":"#f4a460","strokeWidth":1,"strokeDash":[3,3]},"encoding":{"y":{"field":"spanA","type":"quantitative","title":null}}},
{"data":{"name":"cloud"},"mark":{"type":"line","strokeJoin":"round","color":"#d8bfd8","strokeWidth":1,"strokeDash":[3,3]},"encoding":{"y":{"field":"spanB","type":"quantitative","title":null}}},
{"data":{"name":"pivots"},"transform":[{"filter":"datum.price>0.96"}],"mark":{"type":"rule","color":"#ff4500","strokeWidth":1,"strokeDash":[18,9]},"encoding":{"x2":{"field":"barEnd"},"y":{"field":"price","type":"quantitative","title":null}}},
{"data":{"name":"pivots"},"transform":[{"filter":"datum.price<0.96"}],"mark":{"type":"rule","color":"#c49c8c","strokeWidth":1,"strokeDash":[18,9]},"encoding":{"x2":{"field":"barEnd"},"y":{"field":"price","type":"quantitative","title":null}}},
{"data":{"values":[{"bar":83,"barEnd":181,"price":0.9641}]},"mark":{"type":"rule","color":"#ffdd00","strokeWidth":1.5},"encoding":{"x2":{"field":"barEnd"},"y":{"field":"price","type":"quantitative","title":null}}},
{"data":{"values":[{"bar":-0.1,"barEnd":181,"price":0.9789}]},"mark":{"type":"rule","color":"#8f9ba8","strokeWidth":1},"encoding":{"x2":{"field":"barEnd"},"y":{"field":"price","type":"quantitative","title":null}}},
{"data":{"name":"candles"},"mark":{"type":"rule","color":"#00ff00","strokeWidth":1},"encoding":{"y":{"field":"high","type":"quantitative","title":null},"y2":{"field":"low"}}},
{"data":{"name":"candles"},"mark":{"type":"bar","size":5,"stroke":"#00ff00","strokeWidth":1,"cornerRadius":0},"encoding":{"y":{"field":"open","type":"quantitative","title":null},"y2":{"field":"close"},"fill":{"condition":{"test":"datum.close<datum.open","value":"#ffffff"},"value":"#000000"}}},
{"data":{"name":"lines"},"mark":{"type":"line","strokeJoin":"round","color":"#00ff00","strokeWidth":1},"encoding":{"y":{"field":"chikou","type":"quantitative","title":null}}},
{"data":{"name":"lines"},"mark":{"type":"line","strokeJoin":"round","color":"#0000ff","strokeWidth":1.2},"encoding":{"y":{"field":"kijun","type":"quantitative","title":null}}},
{"data":{"name":"lines"},"mark":{"type":"line","strokeJoin":"round","color":"#ff0000","strokeWidth":1},"encoding":{"y":{"field":"tenkan","type":"quantitative","title":null}}},
{"data":{"name":"lines"},"mark":{"type":"line","strokeJoin":"round","color":"#ffff00","strokeWidth":2.8},"encoding":{"y":{"field":"upper","type":"quantitative","title":null}}},
{"data":{"name":"lines"},"mark":{"type":"line","strokeJoin":"round","color":"#ffff00","strokeWidth":2.8},"encoding":{"y":{"field":"middle","type":"quantitative","title":null}}},
{"data":{"name":"lines"},"mark":{"type":"line","strokeJoin":"round","color":"#ffff00","strokeWidth":2.8},"encoding":{"y":{"field":"lower","type":"quantitative","title":null}}},
{"data":{"name":"arrows"},"mark":{"type":"line","strokeJoin":"round","color":"#ff0000","strokeWidth":2.2},"encoding":{"detail":{"field":"path"},"order":{"field":"step"},"y":{"field":"price","type":"quantitative","title":null}}},
{"data":{"values":[{"bar":115.5,"price":0.9962,"label":"R3 0.9962"},{"bar":115.5,"price":0.9851,"label":"R2 0.9851"},{"bar":115.5,"price":0.9752,"label":"R1 0.9752"},{"bar":116,"price":0.9641,"label":"P  0.9641"},{"bar":115.5,"price":0.9542,"label":"S1 0.9542"},{"bar":115.5,"price":0.9431,"label":"S2 0.9431"},{"bar":115.5,"price":0.9332,"label":"S3 0.9332"}]},"mark":{"type":"text","align":"left","baseline":"middle","dy":7,"color":"#d8d8d8","font":"DejaVu Sans Mono","fontSize":12.8,"fontWeight":"bold"},"encoding":{"y":{"field":"price","type":"quantitative","title":null},"text":{"field":"label"}}},
{"data":{"values":[{"bar":148.1,"price":0.9943,"label":"Возможные варианты движения цены"}]},"mark":{"type":"text","align":"center","baseline":"middle","color":"#ff0000","font":"Open Sans","fontSize":19.8},"encoding":{"y":{"field":"price","type":"quantitative","title":null},"text":{"field":"label"}}},
{"data":{"values":[{"bar":148.1,"price":0.9881,"label":"Possible price movement"}]},"mark":{"type":"text","align":"center","baseline":"middle","color":"#ff0000","font":"Open Sans","fontSize":20.4},"encoding":{"y":{"field":"price","type":"quantitative","title":null},"text":{"field":"label"}}},
{"data":{"values":[{"bar":181.05,"barEnd":185.7,"top":0.9801,"bottom":0.9776}]},"mark":{"type":"rect","fill":"#ffffff"},"encoding":{"x2":{"field":"barEnd"},"y":{"field":"top","type":"quantitative","title":null},"y2":{"field":"bottom"}}},
{"data":{"values":[{"bar":181.6,"price":0.9789,"label":"0.9789"}]},"mark":{"type":"text","align":"left","baseline":"middle","color":"#000000","font":"Liberation Sans","fontSize":10},"encoding":{"y":{"field":"price","type":"quantitative","title":null},"text":{"field":"label"}}},
{"data":{"values":[{"bar":1.84,"price":0.9975,"label":"USDCHF,Daily  0.9713 0.9799 0.9702 0.9789"}]},"mark":{"type":"text","align":"left","baseline":"middle","color":"#ffffff","font":"Liberation Sans","fontSize":9.7},"encoding":{"y":{"field":"price","type":"quantitative","title":null},"text":{"field":"label"}}},
{"data":{"values":[{"bar":0.8,"price":0.9975}]},"mark":{"type":"point","shape":"triangle-down","filled":true,"color":"#ffffff","size":40,"opacity":1},"encoding":{"y":{"field":"price","type":"quantitative","title":null}}}
]},
{"width":1449.7,"height":207.4,
"encoding":{"x":{"field":"bar","type":"quantitative","scale":{"domain":[-0.1625,181.05],"nice":false,"zero":false,"padding":0},"axis":{"values":[0,4,8,12,16,20,24,28,32,36,40,44,48,52,56,60,64,68,72,76,80,84,88,92,96,100,104,108,112,116,120,124,128,132,136,140,144,148,152,156,160,164,168,172,176,180],"tickCount":60,"grid":true,"gridColor":"#7d8a98","gridDash":[3,3],"gridWidth":1,"tickColor":"#ffffff","tickSize":2,"tickOpacity":{"condition":{"test":"datum.value % 8 === 0 && datum.value <= 112","value":1},"value":0},"labelAlign":"left","labelColor":"#ffffff","labelFont":"Liberation Sans","labelFontSize":9.5,"labelPadding":3,"labelBound":false,"labelFlush":false,"labelOverlap":false,"labelExpr":"{'0':'1 Jul 2014','8':'11 Jul 2014','16':'23 Jul 2014','24':'4 Aug 2014','32':'14 Aug 2014','40':'26 Aug 2014','48':'5 Sep 2014','56':'17 Sep 2014','64':'29 Sep 2014','72':'9 Oct 2014','80':'21 Oct 2014','88':'31 Oct 2014','96':'12 Nov 2014','104':'24 Nov 2014','112':'4 Dec 2014'}[datum.value+''] || ''"}}},
"layer":[
{"data":{"name":"macd"},"mark":{"type":"bar","size":3,"color":"#c0c0c0"},"encoding":{"y":{"field":"macd","type":"quantitative","title":null,"scale":{"domain":[-0.00161,0.010899],"nice":false,"zero":false},"axis":{"orient":"right","title":null,"values":[0],"labelExpr":"'0.00'","grid":true,"gridColor":"#7d8a98","gridDash":[3,3],"gridWidth":1,"tickColor":"#ffffff","tickSize":2,"labelColor":"#ffffff","labelFont":"Liberation Sans","labelFontSize":9.5,"labelPadding":1,"labelBound":false,"labelFlush":false}},"y2":{"datum":0}}},
{"data":{"name":"macd"},"mark":{"type":"line","strokeJoin":"round","color":"#ff0000","strokeWidth":1},"encoding":{"y":{"field":"signal","type":"quantitative","title":null}}},
{"data":{"values":[{"bar":8.2,"macd":0.00157}]},"mark":{"type":"point","filled":true,"opacity":0.9,"size":13924,"shape":"M1,0 L.816,.08 .981,.195 .785,.238 .924,.383 .723,.387 .831,.556 .634,.52 .707,.707 .52,.634 .556,.831 .387,.723 .383,.924 .238,.785 .195,.981 .08,.816 0,1 -.08,.816 -.195,.981 -.238,.785 -.383,.924 -.387,.723 -.556,.831 -.52,.634 -.707,.707 -.634,.52 -.831,.556 -.723,.387 -.924,.383 -.785,.238 -.981,.195 -.816,.08 -1,0 -.816,-.08 -.981,-.195 -.785,-.238 -.924,-.383 -.723,-.387 -.831,-.556 -.634,-.52 -.707,-.707 -.52,-.634 -.556,-.831 -.387,-.723 -.383,-.924 -.238,-.785 -.195,-.981 -.08,-.816 0,-1 .08,-.816 .195,-.981 .238,-.785 .383,-.924 .387,-.723 .556,-.831 .52,-.634 .707,-.707 .634,-.52 .831,-.556 .723,-.387 .924,-.383 .785,-.238 .981,-.195 .816,-.08 Z","fill":{"gradient":"radial","x1":0.5,"y1":0.62,"r1":0,"x2":0.5,"y2":0.62,"r2":0.62,"stops":[{"offset":0,"color":"#c80000"},{"offset":0.55,"color":"#b00000"},{"offset":1,"color":"#5e0000"}]}},"encoding":{"y":{"field":"macd","type":"quantitative","title":null}}},
{"data":{"values":[{"bar":8.2,"macd":0.00231}]},"mark":{"type":"point","filled":true,"opacity":1,"size":676,"color":"#ffffff","shape":"M.72,-.18 L1,-.15 1,.15 .72,.18 .636,.382 .813,.601 .601,.813 .382,.636 .18,.72 .15,1 -.15,1 -.18,.72 -.382,.636 -.601,.813 -.813,.601 -.636,.382 -.72,.18 -1,.15 -1,-.15 -.72,-.18 -.636,-.382 -.813,-.601 -.601,-.813 -.382,-.636 -.18,-.72 -.15,-1 .15,-1 .18,-.72 .382,-.636 .601,-.813 .813,-.601 .636,-.382 Z"},"encoding":{"y":{"field":"macd","type":"quantitative","title":null}}},
{"data":{"values":[{"bar":8.2,"macd":0.00231}]},"mark":{"type":"point","filled":true,"opacity":1,"size":260,"shape":"circle","color":"#a80000"},"encoding":{"y":{"field":"macd","type":"quantitative","title":null}}},
{"data":{"values":[{"bar":8.2,"macd":0.00231}]},"mark":{"type":"point","filled":true,"opacity":1,"size":676,"color":"#ffffff","shape":"M-.12,-.05 L.12,-.05 .12,.95 -.12,.95 Z M-.28,-.45 L0,-.7 .28,-.45 0,-.1 Z"},"encoding":{"y":{"field":"macd","type":"quantitative","title":null}}},
{"data":{"values":[{"bar":8.2,"macd":0.00072,"label":"InstaForex"}]},"mark":{"type":"text","align":"center","baseline":"middle","color":"#ffffff","font":"Open Sans","fontSize":15.5},"encoding":{"y":{"field":"macd","type":"quantitative","title":null},"text":{"field":"label"}}},
{"data":{"values":[{"bar":0.46,"macd":0.01037,"label":"MACD(12,26,9) 0.00454 0.00324"},{"bar":0.46,"macd":-0.00115,"label":"IFX Trader, © 2001-2014, MetaQuotes Software Corp."}]},"mark":{"type":"text","align":"left","baseline":"middle","color":"#d8d8d8","font":"Liberation Sans","fontSize":9.5},"encoding":{"y":{"field":"macd","type":"quantitative","title":null},"text":{"field":"label"}}},
{"data":{"values":[{"bar":181.4,"macd":0.01072,"label":"0.01072"}]},"mark":{"type":"text","align":"left","baseline":"middle","dy":5,"color":"#ffffff","font":"Liberation Sans","fontSize":9.2},"encoding":{"y":{"field":"macd","type":"quantitative","title":null},"text":{"field":"label"}}},
{"data":{"values":[{"bar":181.4,"macd":-0.00161,"label":"-0.00161"}]},"mark":{"type":"text","align":"left","baseline":"middle","dy":-6,"color":"#ffffff","font":"Liberation Sans","fontSize":9.2},"encoding":{"y":{"field":"macd","type":"quantitative","title":null},"text":{"field":"label"}}}
]}
]}
